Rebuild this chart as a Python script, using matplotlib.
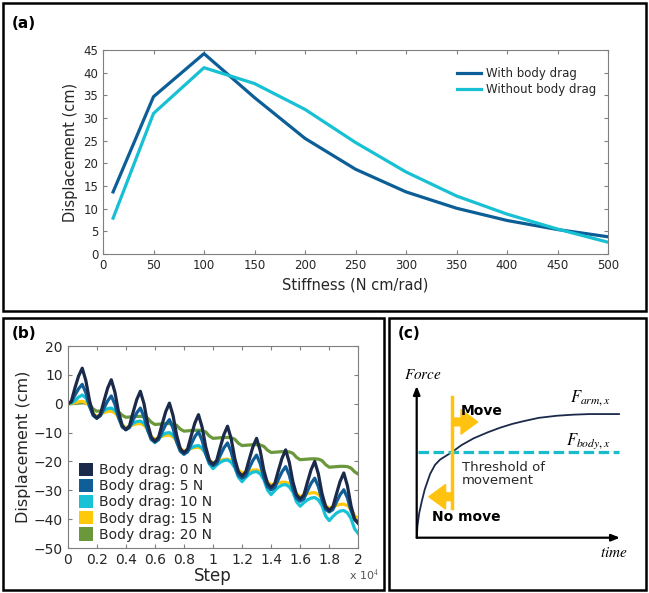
import matplotlib
matplotlib.use('Agg')
import matplotlib.pyplot as plt
import numpy as np
from matplotlib.patches import Rectangle, Patch

plt.rcParams['font.family'] = ['DejaVu Sans']
plt.rcParams['mathtext.fontset'] = 'stix'

# ---- panel (a) data ----
stiffness = [10, 50, 100, 150, 200, 250, 300, 350, 400, 450, 500]
with_drag = [13.7, 34.7, 44.2, 34.5, 25.5, 18.7, 13.7, 10.1, 7.4, 5.4, 3.8]
without_drag = [7.9, 31.0, 41.1, 37.6, 31.9, 24.6, 18.1, 12.8, 8.8, 5.5, 2.6]

# ---- panel (b) data (read every 250 steps) ----
steps = np.arange(0, 20001, 250)
drag0 = [0, 0.8, 5.5, 9.6, 12.3, 8.0, 1.1, -3.6,
         -5, -3.7, 1.0, 5.4, 8.3, 4.0, -2.9, -7.6,
         -9, -7.7, -3.0, 1.4, 4.3, 0.0, -6.9, -11.6,
         -13, -11.7, -7.1, -2.7, 0.2, -4.1, -11.0, -15.6,
         -17, -15.7, -11.1, -6.7, -3.8, -8.1, -15.0, -19.6,
         -21, -19.7, -15.1, -10.7, -7.8, -12.1, -19.0, -23.6,
         -25, -23.7, -19.2, -14.9, -12.0, -16.3, -23.1, -27.6,
         -29, -27.7, -23.2, -18.9, -16.0, -20.3, -27.1, -31.6,
         -33, -31.7, -27.2, -22.9, -20.0, -24.3, -31.1, -35.6,
         -37, -35.7, -31.2, -26.9, -24.0, -28.4, -35.4, -40.1,
         -41.5]
drag5 = [0, 0.5, 3.0, 5.2, 6.7, 3.8, -0.9, -4.1,
         -5, -4.2, -1.5, 1.0, 2.7, -0.2, -4.9, -8.1,
         -9, -8.3, -5.6, -3.2, -1.5, -4.5, -9.2, -12.4,
         -13.3, -12.5, -9.8, -7.2, -5.5, -8.5, -13.3, -16.5,
         -17.5, -16.7, -14.0, -11.4, -9.7, -12.7, -17.4, -20.6,
         -21.5, -20.7, -17.9, -15.3, -13.6, -16.7, -21.5, -24.8,
         -25.8, -25.0, -22.2, -19.6, -17.8, -20.8, -25.6, -28.8,
         -29.8, -29.0, -26.2, -23.6, -21.8, -24.8, -29.6, -32.8,
         -33.8, -33.0, -30.2, -27.6, -25.8, -28.7, -33.4, -36.6,
         -37.5, -36.7, -34.0, -31.5, -29.8, -32.6, -37.1, -40.1,
         -41.0]
drag10 = [0, 0.3, 1.0, 2.3, 3.0, 2.0, -0.5, -3.6,
          -5, -3.6, -2.4, -1.7, -1.5, -2.3, -4.1, -7.5,
          -9, -7.8, -6.8, -6.2, -6.0, -6.8, -8.6, -12.0,
          -13.5, -12.1, -10.9, -10.2, -10.0, -10.8, -12.6, -16.0,
          -17.5, -16.3, -15.3, -14.7, -14.5, -15.3, -17.3, -20.9,
          -22.5, -21.3, -20.3, -19.7, -19.5, -20.3, -22.1, -25.5,
          -27.0, -25.6, -24.4, -23.7, -23.5, -24.3, -26.3, -29.9,
          -31.5, -30.1, -28.9, -28.2, -28.0, -28.8, -30.6, -34.0,
          -35.5, -34.3, -33.3, -32.7, -32.5, -33.3, -35.3, -38.9,
          -40.5, -39.1, -37.9, -37.2, -37.0, -37.8, -39.8, -43.4,
          -45.0]
drag15 = [0, 0.1, 0.4, 0.7, 0.8, 0.4, -0.8, -3.2,
          -4.5, -3.7, -3.1, -2.7, -2.6, -3.2, -4.6, -7.2,
          -8.4, -7.8, -7.3, -7.0, -6.9, -7.5, -8.8, -11.3,
          -12.4, -11.8, -11.3, -11.0, -10.9, -11.5, -12.9, -15.4,
          -16.5, -15.9, -15.5, -15.2, -15.1, -15.7, -17.0, -19.5,
          -20.6, -20.0, -19.6, -19.3, -19.2, -19.7, -20.9, -23.0,
          -24.0, -23.6, -23.2, -23.0, -22.9, -23.4, -24.7, -27.1,
          -28.1, -27.7, -27.4, -27.2, -27.2, -27.7, -29.0, -31.2,
          -32.2, -31.6, -31.2, -30.9, -30.8, -31.4, -32.7, -35.2,
          -36.3, -35.7, -35.2, -34.9, -34.8, -35.3, -36.6, -38.8,
          -39.8]
drag20 = [0, 0, 0.1, 0.2, 0.3, 0.2, -0.3, -1.8,
          -2.6, -2.5, -2.4, -2.3, -2.3, -2.4, -2.8, -4.0,
          -4.7, -4.6, -4.5, -4.4, -4.4, -4.5, -5.0, -6.4,
          -7.2, -7.1, -7.0, -6.9, -6.9, -7.0, -7.5, -8.8,
          -9.5, -9.4, -9.3, -9.2, -9.2, -9.3, -9.8, -11.2,
          -12.0, -11.9, -11.8, -11.7, -11.7, -11.8, -12.3, -13.7,
          -14.5, -14.4, -14.3, -14.2, -14.2, -14.3, -14.8, -16.1,
          -16.9, -16.8, -16.7, -16.6, -16.6, -16.7, -17.2, -18.6,
          -19.4, -19.3, -19.2, -19.1, -19.1, -19.2, -19.7, -21.1,
          -22.0, -21.9, -21.8, -21.7, -21.7, -21.8, -22.3, -23.6,
          -24.4]
drag_series = [drag0, drag5, drag10, drag15, drag20]
drag_labels = ['Body drag: 0 N', 'Body drag: 5 N', 'Body drag: 10 N',
               'Body drag: 15 N', 'Body drag: 20 N']
drag_colors = ['#1b2a4a', '#0f5e98', '#18c2d6', '#ffc90a', '#6a983b']

# ---- panel (c) schematic ----
t_c = [0, 0.004, 0.012, 0.025, 0.04, 0.066, 0.09, 0.115, 0.172, 0.22,
       0.28, 0.35, 0.41, 0.47, 0.525, 0.6, 0.69, 0.77, 0.85, 0.92, 0.995]
f_arm = [0, 0.08, 0.16, 0.24, 0.32, 0.42, 0.48, 0.515, 0.563, 0.61,
         0.655, 0.695, 0.725, 0.75, 0.768, 0.79, 0.804, 0.811, 0.815, 0.815, 0.815]
threshold = 0.563
t_switch = 0.175

grey = '#7f7f7f'
txt = '#262626'

fig = plt.figure(figsize=(6.49, 5.93), dpi=100)

# panel frames
W, H = 649.0, 593.0
for (x0, y0, x1, y1) in [(3, 3, 646, 311), (3, 318, 384, 590), (389, 318, 646, 590)]:
    fig.patches.append(Rectangle((x0 / W, 1 - y1 / H), (x1 - x0) / W, (y1 - y0) / H,
                                 transform=fig.transFigure, fill=False,
                                 edgecolor='black', linewidth=1.8))
fig.text(12 / W, 1 - 23 / H, '(a)', fontsize=11, fontweight='bold', va='center')
fig.text(12 / W, 1 - 333 / H, '(b)', fontsize=11, fontweight='bold', va='center')
fig.text(398 / W, 1 - 334 / H, '(c)', fontsize=11, fontweight='bold', va='center')


def matlab_style(ax):
    for s in ax.spines.values():
        s.set_color(grey)
        s.set_linewidth(0.8)
    ax.tick_params(direction='in', top=True, right=True, color=grey,
                   labelcolor=txt, length=3, width=0.8)


# ---- (a) ----
ax1 = fig.add_axes([103 / W, 1 - 254 / H, 505 / W, 204 / H])
ax1.plot(stiffness, with_drag, color='#0b5e96', lw=2.3, label='With body drag')
ax1.plot(stiffness, without_drag, color='#17c0d2', lw=2.3, label='Without body drag')
ax1.set_xlim(0, 500)
ax1.set_ylim(0, 45)
ax1.set_xticks(np.arange(0, 501, 50))
ax1.set_yticks(np.arange(0, 46, 5))
matlab_style(ax1)
ax1.tick_params(labelsize=8.5)
ax1.set_xlabel('Stiffness (N cm/rad)', fontsize=10.5, color=txt, labelpad=4)
ax1.set_ylabel('Displacement (cm)', fontsize=10.5, color=txt, labelpad=4)
ax1.legend(loc='upper left', bbox_to_anchor=(0.68, 0.97), frameon=False,
           fontsize=8.5, handlelength=2.0, handletextpad=0.45, labelspacing=0.25,
           labelcolor=txt)

# ---- (b) ----
ax2 = fig.add_axes([67.7 / W, 1 - 548 / H, 290.6 / W, 202 / H])
for ys, c in reversed(list(zip(drag_series, drag_colors))):
    ax2.plot(steps, ys, color=c, lw=2.3)
ax2.set_xlim(0, 20000)
ax2.set_ylim(-50, 20)
xt = np.arange(0, 20001, 2000)
ax2.set_xticks(xt)
ax2.set_xticklabels(['%g' % (v / 1e4) for v in xt])
ax2.set_yticks(np.arange(-50, 21, 10))
matlab_style(ax2)
ax2.tick_params(labelsize=10)
ax2.set_xlabel('Step', fontsize=12, color=txt, labelpad=0)
ax2.set_ylabel('Displacement (cm)', fontsize=11.5, color=txt, labelpad=2)
ax2.text(1.02, -0.135, r'x 10$^{4}$', transform=ax2.transAxes, fontsize=8,
         color='#555555', ha='center', va='center')
handles = [Patch(facecolor=c, edgecolor='none') for c in drag_colors]
ax2.legend(handles, drag_labels, loc='lower left', bbox_to_anchor=(-0.005, -0.03),
           frameon=False, fontsize=10, handlelength=1.05, handleheight=1.1,
           handletextpad=0.4, labelspacing=0.12, labelcolor=txt)

# ---- (c) ----
ax3 = fig.add_axes([416.7 / W, 1 - 537.7 / H, 203.3 / W, 151.7 / H])
ax3.set_xlim(0, 1)
ax3.set_ylim(0, 1)
ax3.axis('off')
ax3.annotate('', xy=(1.0, 0), xytext=(0, 0),
             arrowprops=dict(arrowstyle='-|>,head_length=0.5,head_width=0.2',
                             color='black', lw=1.6, shrinkA=0, shrinkB=0))
ax3.annotate('', xy=(0, 1.0), xytext=(0, 0),
             arrowprops=dict(arrowstyle='-|>,head_length=0.5,head_width=0.2',
                             color='black', lw=1.6, shrinkA=0, shrinkB=0))
ax3.plot(t_c, f_arm, color='#1b2a4a', lw=1.3)
ax3.plot([0.007, 0.995], [threshold, threshold], color='#1abccc', lw=2.3,
         dashes=(3.3, 1.4))
ax3.plot([t_switch, t_switch], [0.198, 0.93], color='#ffc20e', lw=2.5)
for x_end, yv in [(0.30, 0.763), (0.06, 0.27)]:
    ax3.annotate('', xy=(x_end, yv), xytext=(t_switch, yv),
                 arrowprops=dict(arrowstyle='simple,head_length=0.75,head_width=1.1,tail_width=0.35',
                                 color='#ffc20e', shrinkA=0, shrinkB=0,
                                 mutation_scale=16))
ax3.text(0.218, 0.835, 'Move', fontsize=10, fontweight='bold', va='center', ha='left')
ax3.text(0.074, 0.136, 'No move', fontsize=10, fontweight='bold', va='center', ha='left')
ax3.text(0.222, 0.42, 'Threshold of\nmovement', fontsize=9.5, va='center', ha='left',
         color=txt, linespacing=1.05)
ax3.text(0.754, 0.921, r'$F_{arm,x}$', fontsize=12, va='center', ha='left')
ax3.text(0.736, 0.637, r'$F_{body,x}$', fontsize=12, va='center', ha='left')
ax3.text(-0.062, 1.079, r'$Force$', fontsize=11, va='center', ha='left')
ax3.text(0.90, -0.10, r'$time$', fontsize=11, va='center', ha='left')

fig.savefig('out.png', dpi=100)
